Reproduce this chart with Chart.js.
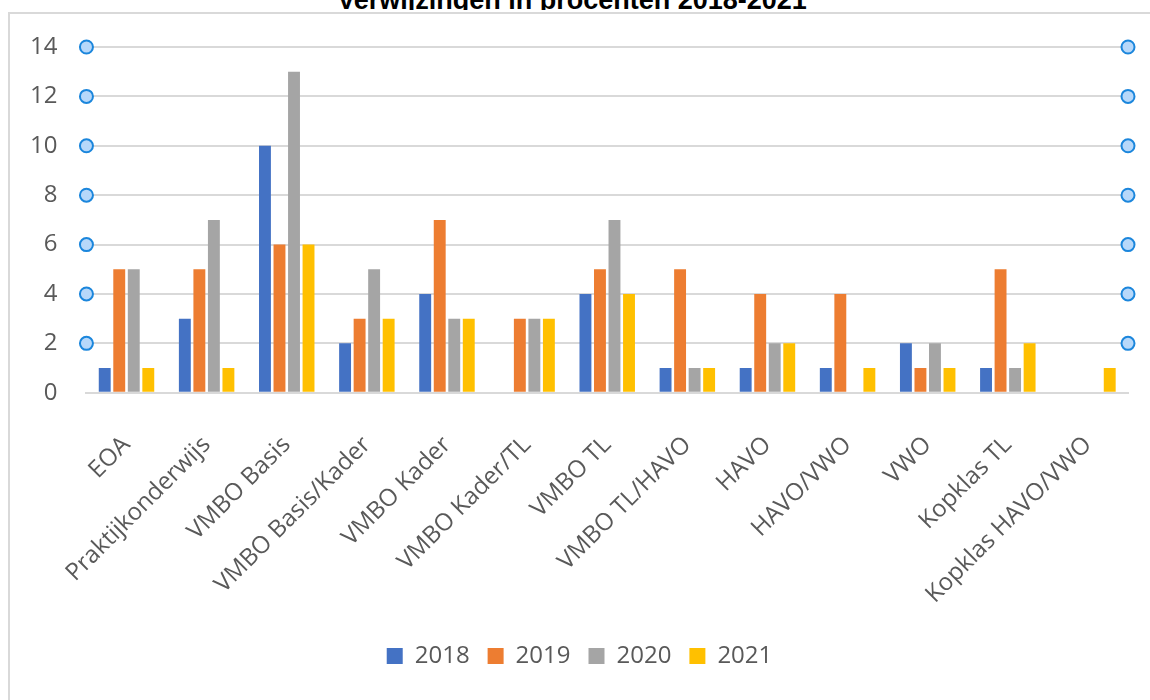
<!DOCTYPE html>
<html lang="nl">
<head>
    <meta charset="UTF-8">
    <title>Verwijzingen in procenten 2018-2021</title>
    <script src="https://cdn.jsdelivr.net/npm/chart.js"></script>
    <style>
        html, body {
            margin: 0;
            padding: 0;
            background: #fff;
            width: 1150px;
            height: 700px;
            overflow: hidden;
        }
        #titleClip {
            position: absolute;
            left: 0;
            top: 0;
            width: 1150px;
            height: 10px;
            overflow: hidden;
        }
        #title {
            position: absolute;
            left: 0;
            width: 1144px;
            top: -13px;
            text-align: center;
            font-family: "Liberation Sans", Arial, sans-serif;
            font-weight: bold;
            font-size: 27px;
            line-height: 27px;
            color: #000;
        }
        #box {
            position: absolute;
            left: 8px;
            top: 12px;
            width: 1160px;
            height: 720px;
            border-left: 2px solid #d9d9d9;
            border-top: 2px solid #d9d9d9;
        }
        #chartWrap {
            position: absolute;
            left: 0;
            top: 0;
            width: 1150px;
            height: 700px;
        }
    </style>
</head>
<body>
    <div id="titleClip"><div id="title">Verwijzingen in procenten 2018-2021</div></div>
    <div id="box"></div>
    <div id="chartWrap"><canvas id="chart"></canvas></div>

    <script>
        const categories = ['EOA', 'Praktijkonderwijs', 'VMBO Basis', 'VMBO Basis/Kader', 'VMBO Kader',
            'VMBO Kader/TL', 'VMBO TL', 'VMBO TL/HAVO', 'HAVO', 'HAVO/VWO', 'VWO', 'Kopklas TL', 'Kopklas HAVO/VWO'];
        const years = ['2018', '2019', '2020', '2021'];
        const values2018 = [1, 3, 10, 2, 4, null, 4, 1, 1, 1, 2, 1, null];
        const values2019 = [5, 5, 6, 3, 7, 3, 5, 5, 4, 4, 1, 5, null];
        const values2020 = [5, 7, 13, 5, 3, 3, 7, 1, 2, null, 2, 1, null];
        const values2021 = [1, 1, 6, 3, 3, 3, 4, 1, 2, 1, 1, 2, 1];
        const colors = ['#4472C4', '#ED7D31', '#A5A5A5', '#FFC000'];

        const labelFont = { family: '"Open Sans", sans-serif', size: 24 };
        const textColor = '#595959';
        const gridColor = '#d9d9d9';

        // little blue handles at both ends of each gridline
        const handles = {
            id: 'handles',
            afterDatasetsDraw(chart) {
                const ctx = chart.ctx;
                const y = chart.scales.y;
                const area = chart.chartArea;
                ctx.save();
                y.ticks.forEach(t => {
                    if (t.value <= 0) return;
                    const py = y.getPixelForValue(t.value);
                    [area.left, area.right].forEach(px => {
                        ctx.beginPath();
                        ctx.arc(px, py, 6.5, 0, Math.PI * 2);
                        ctx.fillStyle = '#b7d8fa';
                        ctx.fill();
                        ctx.lineWidth = 2;
                        ctx.strokeStyle = '#1b86dc';
                        ctx.stroke();
                    });
                });
                ctx.restore();
            }
        };

        // legend sits a bit right of the canvas centre in the original
        const legendShift = {
            id: 'legendShift',
            afterLayout(chart) {
                chart.legend.left += 15;
                chart.legend.right += 15;
            }
        };

        const allValues = [values2018, values2019, values2020, values2021];

        new Chart(document.getElementById('chart'), {
            type: 'bar',
            data: {
                labels: categories,
                datasets: years.map((yr, i) => ({
                    label: yr,
                    data: allValues[i],
                    backgroundColor: colors[i],
                    borderWidth: 0,
                    categoryPercentage: 0.725,
                    barPercentage: 0.82
                }))
            },
            options: {
                responsive: true,
                maintainAspectRatio: false,
                animation: false,
                layout: {
                    padding: { left: 1, right: 22, top: 47, bottom: 22 }
                },
                scales: {
                    x: {
                        grid: { display: false, drawTicks: false },
                        border: { display: true, color: gridColor, width: 2 },
                        ticks: {
                            font: labelFont,
                            color: textColor,
                            minRotation: 45,
                            maxRotation: 45,
                            padding: 38,
                            autoSkip: false
                        },
                        afterFit(scale) {
                            scale.height -= 21;
                        }
                    },
                    y: {
                        min: 0,
                        max: 14,
                        grid: { color: gridColor, lineWidth: 2, drawTicks: false },
                        border: { display: false },
                        ticks: {
                            stepSize: 2,
                            font: labelFont,
                            color: textColor,
                            padding: 29
                        }
                    }
                },
                plugins: {
                    legend: {
                        position: 'bottom',
                        labels: {
                            font: labelFont,
                            color: textColor,
                            boxWidth: 16,
                            boxHeight: 16,
                            padding: 18
                        }
                    },
                    tooltip: { enabled: false }
                }
            },
            plugins: [handles, legendShift]
        });
    </script>
</body>
</html>
